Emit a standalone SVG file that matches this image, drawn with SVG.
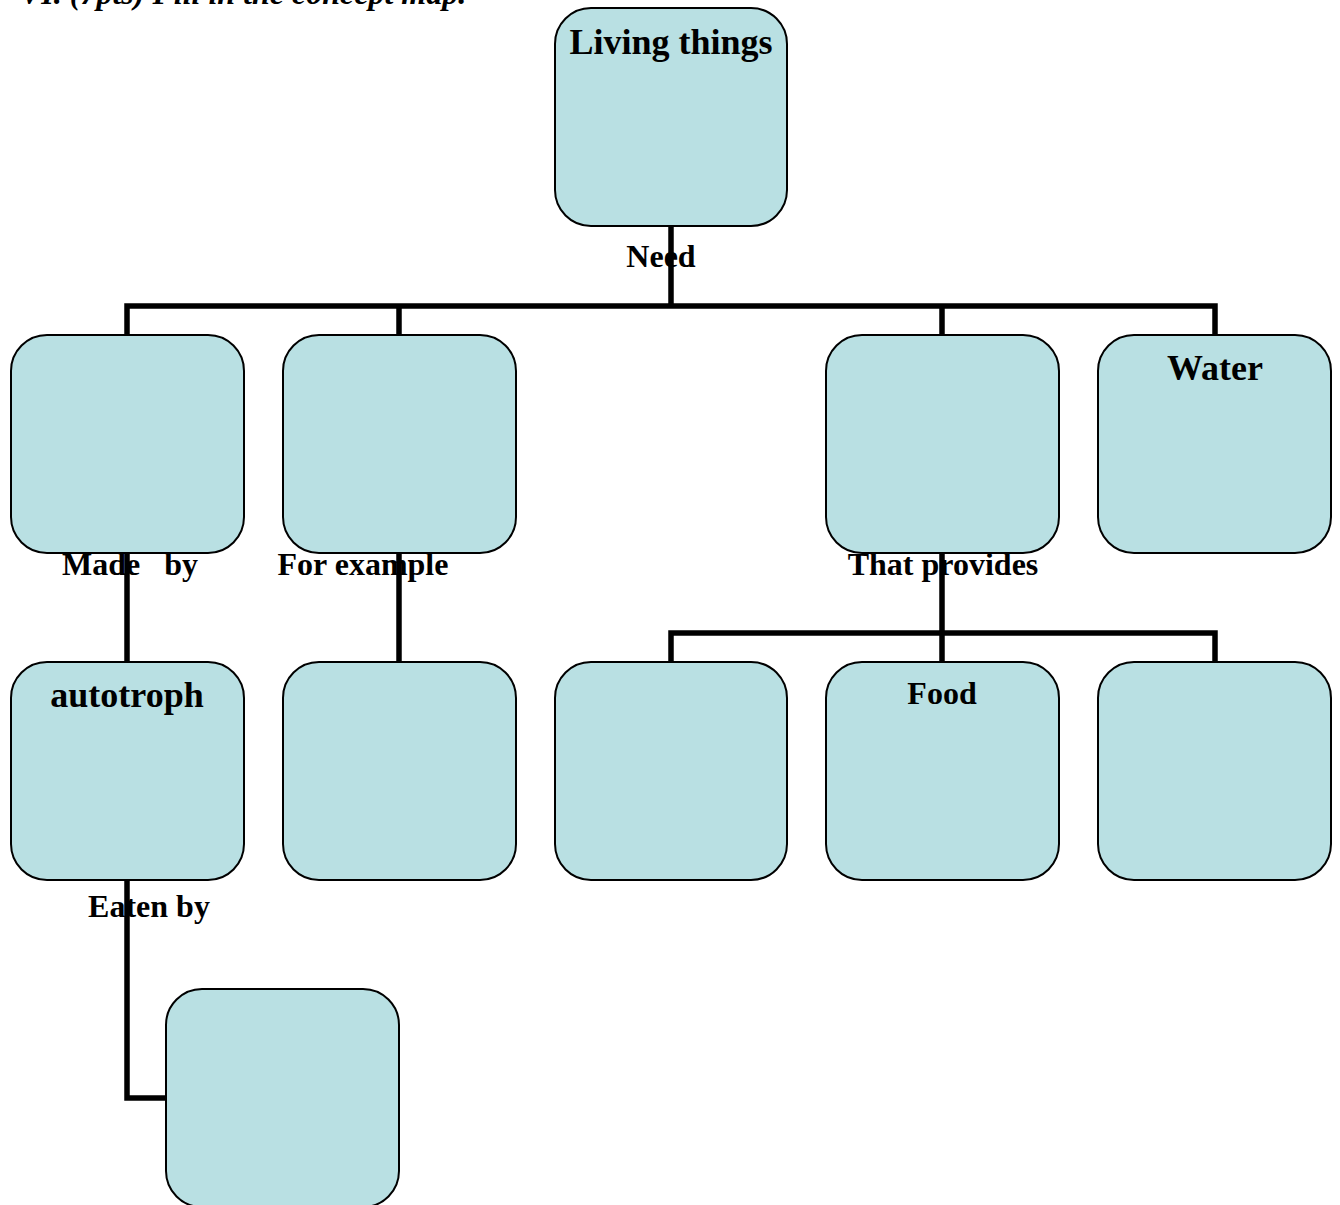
<svg xmlns="http://www.w3.org/2000/svg" width="1340" height="1205" viewBox="0 0 1340 1205">
<style>
.box{fill:#b9e0e3;stroke:#000;stroke-width:2}
.lbl{font-family:"Liberation Serif","Times New Roman",serif;font-weight:bold;fill:#000;text-anchor:middle;white-space:pre}
.big{font-size:36px}
.sm{font-size:32px}
.con{fill:none;stroke:#000;stroke-width:5.5;stroke-linejoin:miter}
</style>
<rect width="1340" height="1205" fill="#fff"/>
<text x="20" y="4" style="font-family:'Liberation Serif','Times New Roman',serif;font-weight:bold;font-style:italic;font-size:32px">VI. (7pts) Fill in the concept map.</text>
<g id="connectors">
<path class="con" d="M671 226V306M127 335V306H1215V335M399 306V335M942 306V335"/>
<path class="con" d="M127 553V662"/>
<path class="con" d="M399 553V662"/>
<path class="con" d="M942 553V633M671 662V633H1215V662M942 633V662"/>
<path class="con" d="M127 880V1098H166"/>
</g>
<g id="n-living"><rect class="box" x="555" y="8" width="232" height="218" rx="36"/><text class="lbl big" x="671" y="54">Living things</text></g>
<g id="n-r2a"><rect class="box" x="11" y="335" width="233" height="218" rx="36"/></g>
<g id="n-r2b"><rect class="box" x="283" y="335" width="233" height="218" rx="36"/></g>
<g id="n-r2c"><rect class="box" x="826" y="335" width="233" height="218" rx="36"/></g>
<g id="n-water"><rect class="box" x="1098" y="335" width="233" height="218" rx="36"/><text class="lbl big" x="1215" y="380">Water</text></g>
<g id="n-autotroph"><rect class="box" x="11" y="662" width="233" height="218" rx="36"/><text class="lbl big" x="127" y="707">autotroph</text></g>
<g id="n-r3b"><rect class="box" x="283" y="662" width="233" height="218" rx="36"/></g>
<g id="n-r3c"><rect class="box" x="555" y="662" width="232" height="218" rx="36"/></g>
<g id="n-food"><rect class="box" x="826" y="662" width="233" height="218" rx="36"/><text class="lbl sm" x="942" y="704">Food</text></g>
<g id="n-r3e"><rect class="box" x="1098" y="662" width="233" height="218" rx="36"/></g>
<g id="n-r4"><rect class="box" x="166" y="989" width="233" height="218" rx="36"/></g>
<g id="labels">
<text class="lbl sm" x="661" y="267">Need</text>
<text class="lbl sm" x="130" y="575">Made   by</text>
<text class="lbl sm" x="363" y="575">For example</text>
<text class="lbl sm" x="943" y="575">That provides</text>
<text class="lbl sm" x="149" y="917">Eaten by</text>
</g>
</svg>
